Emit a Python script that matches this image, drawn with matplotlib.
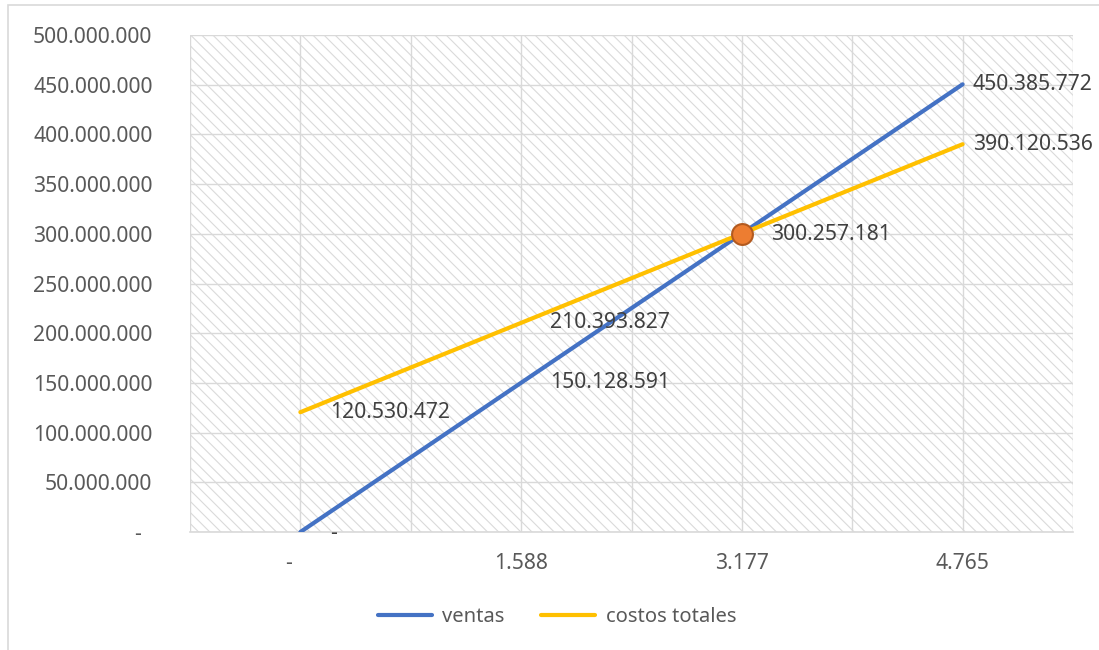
import matplotlib
matplotlib.use("Agg")
import matplotlib.pyplot as plt
from matplotlib.patches import Rectangle
from matplotlib.ticker import FixedLocator, FuncFormatter

# ---- data ----
categories = ["-", "1.588", "3.177", "4.765"]
ventas = [0, 150128591, 300257181, 450385772]
costos_totales = [120530472, 210393827, 300257181, 390120536]
equilibrio_idx = 2
equilibrio_val = 300257181
y_ticks = [0, 50e6, 100e6, 150e6, 200e6, 250e6, 300e6, 350e6, 400e6, 450e6, 500e6]

plt.rcParams['font.family'] = ['Noto Sans', 'DejaVu Sans']

BLUE = "#4472C4"
YELLOW = "#FFC000"
ORANGE = "#ED7D31"
GRID = "#D9D9D9"
TICKC = "#595959"
LABC = "#404040"
FS = 15.2
FS_LEG = 14.5

fig = plt.figure(figsize=(10.99, 6.5), dpi=100)
# outer chart border
fig.patches.append(Rectangle((8/1099, -0.1), 1.2, 1 - 5/650 + 0.1, transform=fig.transFigure,
                             fill=False, edgecolor=GRID, linewidth=1.2, zorder=0))

ax = fig.add_axes([190/1099, 1 - 532/650, (1073-190)/1099, (532-35)/650])
ax.set_facecolor("white")
plt.rcParams['hatch.linewidth'] = 0.8
ax.add_patch(Rectangle((0, 0), 1, 1, transform=ax.transAxes, facecolor="none",
                       edgecolor="#DADADA", hatch="\\\\\\", linewidth=0, zorder=0))

x = list(range(len(categories)))
ax.set_xlim(-0.5, len(categories) - 0.5)
ax.set_ylim(0, 500e6)

ax.xaxis.set_minor_locator(FixedLocator([i - 0.5 for i in range(len(categories) + 1)]))
ax.set_xticks(x)
ax.set_xticklabels([c if c != "-" else "-    " for c in categories])
ax.set_yticks(y_ticks)

def yfmt(v, pos):
    if v == 0:
        return "-  "
    return f"{int(v):,}".replace(",", ".")
ax.yaxis.set_major_formatter(FuncFormatter(yfmt))

ax.grid(True, which="major", axis="both", color=GRID, linewidth=1.0, zorder=1)
ax.grid(True, which="minor", axis="x", color=GRID, linewidth=1.0, zorder=1)
ax.set_axisbelow(True)
for s in ["top", "right", "left"]:
    ax.spines[s].set_visible(False)
ax.spines["bottom"].set_color(GRID)
ax.spines["bottom"].set_linewidth(1.2)
ax.tick_params(axis="both", which="both", length=0, colors=TICKC, labelsize=FS)
ax.tick_params(axis="y", pad=27)
ax.tick_params(axis="x", pad=15)

ax.plot(x, ventas, color=BLUE, linewidth=3, solid_capstyle="round", label="ventas", zorder=3)
ax.plot(x, costos_totales, color=YELLOW, linewidth=3, solid_capstyle="round", label="costos totales", zorder=3)
ax.plot([equilibrio_idx], [equilibrio_val], marker="o", markersize=15, color=ORANGE,
        markeredgecolor="#B35A1F", markeredgewidth=1.5, linestyle="none", zorder=4)

def fmt(v):
    return "-" if v == 0 else f"{int(v):,}".replace(",", ".")

# data labels (offsets in pixels are styling)
off_v = [30, 29, 0, 10]
off_c = [30, 29, 29, 10]
for i, v in enumerate(ventas):
    if i == equilibrio_idx:
        continue
    ax.annotate(fmt(v), (x[i], v), xytext=(off_v[i] * 0.72, -2 * 0.72 if v == 0 else 0),
                textcoords="offset points", ha="left", va="center", fontsize=FS, color=LABC, zorder=5)
for i, v in enumerate(costos_totales):
    ax.annotate(fmt(v), (x[i], v), xytext=(off_c[i] * 0.72, -1 * 0.72 if i == equilibrio_idx else 0),
                textcoords="offset points", ha="left", va="center", fontsize=FS, color=LABC, zorder=5)

leg = fig.legend(loc="center", bbox_to_anchor=(557/1099, 1 - 617/650), ncol=2, frameon=False,
                 fontsize=FS_LEG, handlelength=2.7, handletextpad=0.5, columnspacing=1.8, labelcolor=TICKC)

fig.savefig("out.png", dpi=100)
